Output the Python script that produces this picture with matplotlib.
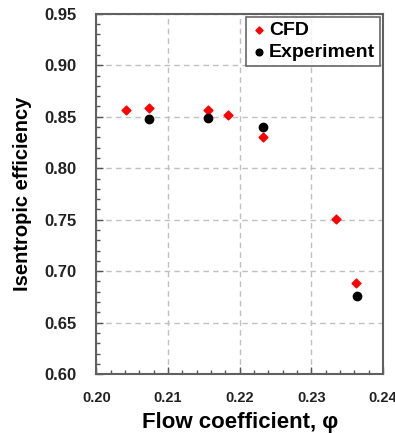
import matplotlib
matplotlib.use('Agg')
import matplotlib.pyplot as plt
from matplotlib.ticker import MultipleLocator

plt.rcParams['font.family'] = ['Liberation Sans', 'DejaVu Sans']
plt.rcParams['font.weight'] = 'bold'

# Data
cfd_phi = [0.2042, 0.2073, 0.2155, 0.2184, 0.2232, 0.2334, 0.2362]
cfd_eff = [0.857, 0.859, 0.857, 0.852, 0.830, 0.751, 0.689]

exp_phi = [0.2073, 0.2155, 0.2232, 0.2364]
exp_eff = [0.848, 0.849, 0.840, 0.676]

x_ticks = [0.20, 0.21, 0.22, 0.23, 0.24]
y_ticks = [0.60, 0.65, 0.70, 0.75, 0.80, 0.85, 0.90, 0.95]

fig = plt.figure(figsize=(3.95, 4.33), dpi=100)
ax = fig.add_axes([0.244, 0.136, 0.726, 0.832])

ax.scatter(cfd_phi, cfd_eff, marker='D', s=20, color='#ff0000', zorder=3, label='CFD')
ax.scatter(exp_phi, exp_eff, marker='o', s=36, color='#000000', zorder=3, label='Experiment')

ax.set_xlim(0.20, 0.24)
ax.set_ylim(0.60, 0.95)
ax.set_xticks(x_ticks)
ax.set_yticks(y_ticks)
ax.set_xticklabels([f'{v:.2f}' for v in x_ticks])
ax.set_yticklabels([f'{v:.2f}' for v in y_ticks])
ax.xaxis.set_minor_locator(MultipleLocator(0.002))
ax.yaxis.set_minor_locator(MultipleLocator(0.01))

ax.tick_params(which='both', direction='in', colors='#555555', labelcolor='#222222',
               top=False, right=False)
ax.tick_params(which='major', length=5, width=1.0)
ax.tick_params(which='minor', length=3, width=1.0)
ax.tick_params(axis='y', which='major', pad=14, labelsize=12)
ax.tick_params(axis='x', which='major', pad=12, labelsize=10.5)

ax.grid(True, which='major', linestyle=(0, (4, 3)), color='#c0c0c0', linewidth=1.0)
for sp in ax.spines.values():
    sp.set_color('#606060')
    sp.set_linewidth(1.5)

ax.set_xlabel('Flow coefficient, φ', fontsize=16, fontweight='bold', labelpad=5)
ax.set_ylabel('Isentropic efficiency', fontsize=14.5, fontweight='bold', labelpad=9)

leg = ax.legend(loc='upper right', fontsize=14, frameon=True, fancybox=False,
                handletextpad=0.15, handlelength=0.8, borderpad=0.25, labelspacing=0.2,
                borderaxespad=0.15, markerscale=0.8)
leg.get_frame().set_edgecolor('#505050')
leg.get_frame().set_linewidth(1.3)

fig.savefig('out.png', dpi=100)
